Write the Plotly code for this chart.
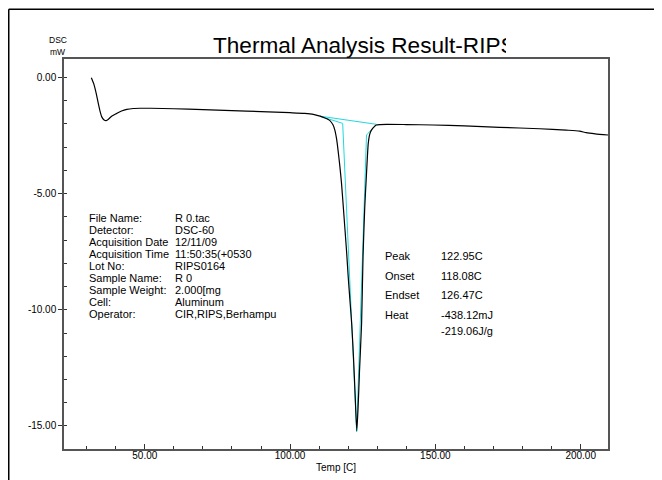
import plotly.graph_objects as go

# ---- data ----
temp = [31.6, 32.5, 33.3, 34.0, 34.6, 35.2, 36.0, 36.7, 37.5, 38.5, 40.4, 42.0, 43.8, 46.0, 48.4,
        52.0, 60.0, 70.0, 80.0, 90.0, 100.0, 105.0, 108.0, 110.3, 112.0, 113.7, 114.8, 115.4,
        116.0, 116.5, 117.1, 117.7, 118.3, 118.9, 119.5, 120.0, 120.6, 121.2, 121.8, 122.4,
        122.95, 123.4, 123.9, 124.6, 125.1, 125.7, 126.3, 126.9, 127.4, 128.0, 129.0, 129.7,
        131.0, 133.2, 140.0, 149.2, 160.0, 172.1, 185.9, 195.0, 199.6, 201.9, 205.0, 209.4]
dsc = [-0.02, -0.30, -0.70, -1.12, -1.45, -1.70, -1.83, -1.86, -1.80, -1.68, -1.55, -1.45, -1.38, -1.34, -1.33,
       -1.33, -1.35, -1.39, -1.43, -1.47, -1.52, -1.55, -1.59, -1.67, -1.75, -1.86, -2.05, -2.27,
       -2.65, -3.13, -3.80, -4.56, -5.55, -6.57, -7.60, -8.58, -9.60, -10.6, -12.0, -13.7,
       -15.2, -14.2, -12.6, -10.6, -7.72, -5.57, -4.13, -2.84, -2.45, -2.27, -2.12, -2.05,
       -2.03, -2.02, -2.03, -2.05, -2.09, -2.15, -2.21, -2.27, -2.31, -2.38, -2.43, -2.48]

# analysis construction lines (cyan)
base_t = [110.3, 129.7]
base_v = [-1.67, -2.02]
tang_t = [110.3, 118.1, 122.9, 126.3, 129.7]
tang_v = [-1.67, -1.98, -15.25, -2.48, -2.02]

x_ticks = [50, 100, 150, 200]
x_ticktext = ["50.00", "100.00", "150.00", "200.00"]
y_ticks = [0, -5, -10, -15]
y_ticktext = ["0.00", "-5.00", "-10.00", "-15.00"]

info_labels = ["File Name:", "Detector:", "Acquisition Date", "Acquisition Time", "Lot No:",
               "Sample Name:", "Sample Weight:", "Cell:", "Operator:"]
info_values = ["R 0.tac", "DSC-60", "12/11/09", "11:50:35(+0530", "RIPS0164", "R 0",
               "2.000[mg", "Aluminum", "CIR,RIPS,Berhampu"]
peak_labels = ["Peak", "Onset", "Endset", "Heat", ""]
peak_values = ["122.95C", "118.08C", "126.47C", "-438.12mJ", "-219.06J/g"]

title_text = "Thermal Analysis Result-RIPS"

# ---- geometry (page pixels; the page body adds an 8px offset) ----
W, H = 662, 480
OFF = 8
L, R, T, B = 64 - OFF, 608 - OFF, 59 - OFF, 449 - OFF
FONT = "Arial, Liberation Sans, sans-serif"


def px(x):
    return (x - OFF - L) / (R - L)


def py(y):
    return (B - (y - OFF)) / (B - T)


fig = go.Figure()
fig.add_trace(go.Scatter(x=base_t, y=base_v, mode="lines",
                         line=dict(color="#20d8de", width=1), hoverinfo="skip"))
fig.add_trace(go.Scatter(x=tang_t, y=tang_v, mode="lines",
                         line=dict(color="#20d8de", width=1), hoverinfo="skip"))
fig.add_trace(go.Scatter(x=temp, y=dsc, mode="lines",
                         line=dict(color="black", width=1.2, shape="spline", smoothing=0.6)))

ann = []
# title
ann.append(dict(text=title_text, x=px(211), y=py(46), xref="paper", yref="paper",
                xanchor="left", yanchor="middle", showarrow=False,
                font=dict(size=22.6, color="black", family=FONT)))
# clip the final letter like the reference
ann.append(dict(text=" ", x=px(506), y=py(32), xref="paper", yref="paper",
                xanchor="left", yanchor="top", showarrow=False, bgcolor="white",
                width=24, height=24, borderpad=0, borderwidth=0,
                font=dict(size=10)))
# y-axis unit label
ann.append(dict(text="DSC", x=px(58), y=py(40), xref="paper", yref="paper",
                xanchor="center", yanchor="middle", showarrow=False,
                font=dict(size=8.5, color="black", family=FONT)))
ann.append(dict(text="mW", x=px(57), y=py(52), xref="paper", yref="paper",
                xanchor="center", yanchor="middle", showarrow=False,
                font=dict(size=8.5, color="black", family=FONT)))
# x-axis title
ann.append(dict(text="Temp [C]", x=px(336), y=py(467), xref="paper", yref="paper",
                xanchor="center", yanchor="middle", showarrow=False,
                font=dict(size=10, color="black", family=FONT)))
# info block
for i, (lab, val) in enumerate(zip(info_labels, info_values)):
    yy = 218 + i * 12
    ann.append(dict(text=lab, x=px(87), y=py(yy), xref="paper", yref="paper",
                    xanchor="left", yanchor="middle", showarrow=False,
                    font=dict(size=11, color="black", family=FONT)))
    ann.append(dict(text=val, x=px(173), y=py(yy), xref="paper", yref="paper",
                    xanchor="left", yanchor="middle", showarrow=False,
                    font=dict(size=11, color="black", family=FONT)))
# peak results
peak_y = [256, 275.5, 295, 315, 330.5]
for lab, val, yy in zip(peak_labels, peak_values, peak_y):
    if lab:
        ann.append(dict(text=lab, x=px(383), y=py(yy), xref="paper", yref="paper",
                        xanchor="left", yanchor="middle", showarrow=False,
                        font=dict(size=11, color="black", family=FONT)))
    ann.append(dict(text=val, x=px(439), y=py(yy), xref="paper", yref="paper",
                    xanchor="left", yanchor="middle", showarrow=False,
                    font=dict(size=11, color="black", family=FONT)))

shapes = [
    dict(type="line", xref="paper", yref="paper", x0=px(8.75), y0=py(9.25), x1=px(700), y1=py(9.25),
         line=dict(color="black", width=1.5)),
    dict(type="line", xref="paper", yref="paper", x0=px(8.75), y0=py(9.25), x1=px(8.75), y1=py(520),
         line=dict(color="black", width=1.5)),
]

fig.update_layout(
    width=W, height=H,
    margin=dict(l=L, r=W - R, t=T, b=H - B, pad=0),
    paper_bgcolor="white", plot_bgcolor="white",
    showlegend=False,
    font=dict(family=FONT, size=10, color="black"),
    annotations=ann, shapes=shapes,
    xaxis=dict(range=[22.2, 209.4], tickvals=x_ticks, ticktext=x_ticktext,
               ticks="inside", ticklen=5, tickwidth=1, tickcolor="#333",
               ticklabelstandoff=-4,
               minor=dict(dtick=10, tick0=0, ticks="inside", ticklen=3, tickcolor="#333", showgrid=False),
               showgrid=False, zeroline=False, showline=True, linecolor="#555", linewidth=1.5,
               mirror=True, tickfont=dict(size=10, color="black", family=FONT)),
    yaxis=dict(range=[-15.99, 0.79], tickvals=y_ticks, ticktext=y_ticktext,
               ticks="outside", ticklen=4, tickwidth=1, tickcolor="#333",
               minor=dict(dtick=1, tick0=0, ticks="inside", ticklen=3, tickcolor="#333", showgrid=False),
               showgrid=False, zeroline=False, showline=True, linecolor="#555", linewidth=1.5,
               mirror=True, tickfont=dict(size=10, color="black", family=FONT)),
)

fig.write_html("out.html")
